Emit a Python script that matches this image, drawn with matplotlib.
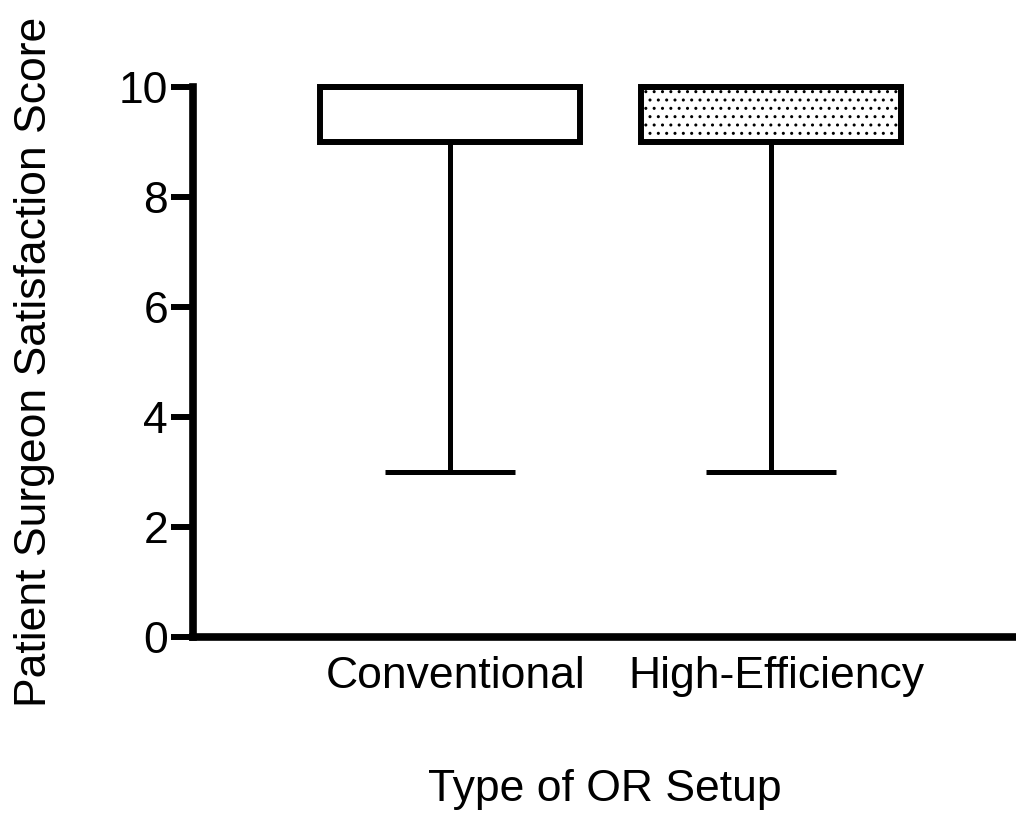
import matplotlib
matplotlib.use("Agg")
import matplotlib.pyplot as plt
from matplotlib.transforms import ScaledTranslation

plt.rcParams['font.family'] = ['Liberation Sans', 'DejaVu Sans']
plt.rcParams['hatch.linewidth'] = 1.0

categories = ["Conventional", "High-Efficiency"]
q1 = [9, 9]
median = [10, 10]
q3 = [10, 10]
whisker_low = [3, 3]
whisker_high = [10, 10]
yticks = [0, 2, 4, 6, 8, 10]

stats = []
for name, a, m, b, lo, hi in zip(categories, q1, median, q3, whisker_low, whisker_high):
    stats.append(dict(label=name, q1=a, med=m, q3=b, whislo=lo, whishi=hi, fliers=[]))

fig = plt.figure(figsize=(10.16, 8.14), dpi=100)
ax = fig.add_axes([0.19, 0.2174, 0.81, 0.6757])

positions = list(range(1, len(categories) + 1))
bp = ax.bxp(stats, positions=positions, widths=0.81, patch_artist=True,
            showfliers=False,
            boxprops=dict(linewidth=4.3, edgecolor='black'),
            medianprops=dict(linewidth=4.3, color='black'),
            whiskerprops=dict(linewidth=3.6, color='black', solid_capstyle='butt'),
            capprops=dict(linewidth=3.6, color='black', solid_capstyle='butt'),
            capwidths=0.405)

for group in bp.values():
    for artist in group:
        artist.set_clip_on(False)

fills = ['white', 'white']
hatches = ['', '..']
for box, fc, h in zip(bp['boxes'], fills, hatches):
    box.set_facecolor(fc)
    box.set_hatch(h)
    box.set_joinstyle('miter')

ax.set_xlim(0.2, 2.764)
ax.set_ylim(0, 10)
ax.set_yticks(yticks)
ax.set_xticks(positions)
ax.set_xticklabels(categories)

for s in ['top', 'right']:
    ax.spines[s].set_visible(False)
for s in ['left', 'bottom']:
    ax.spines[s].set_linewidth(5.5)
    ax.spines[s].set_capstyle('projecting')

ax.tick_params(axis='y', length=16, width=4.3, labelsize=32, pad=2)
ax.tick_params(axis='x', length=0, labelsize=32, pad=14)

# nudge category labels slightly to the right
shift = ScaledTranslation(6 / 100, 0, fig.dpi_scale_trans)
for lbl in ax.get_xticklabels():
    lbl.set_transform(lbl.get_transform() + shift)

ax.set_ylabel("Patient Surgeon Satisfaction Score", fontsize=32)
ax.set_xlabel("Type of OR Setup", fontsize=32)
ax.yaxis.set_label_coords(-0.168, 0.5)
ax.xaxis.set_label_coords(0.5, -0.24)

fig.savefig("out.png", dpi=100)
